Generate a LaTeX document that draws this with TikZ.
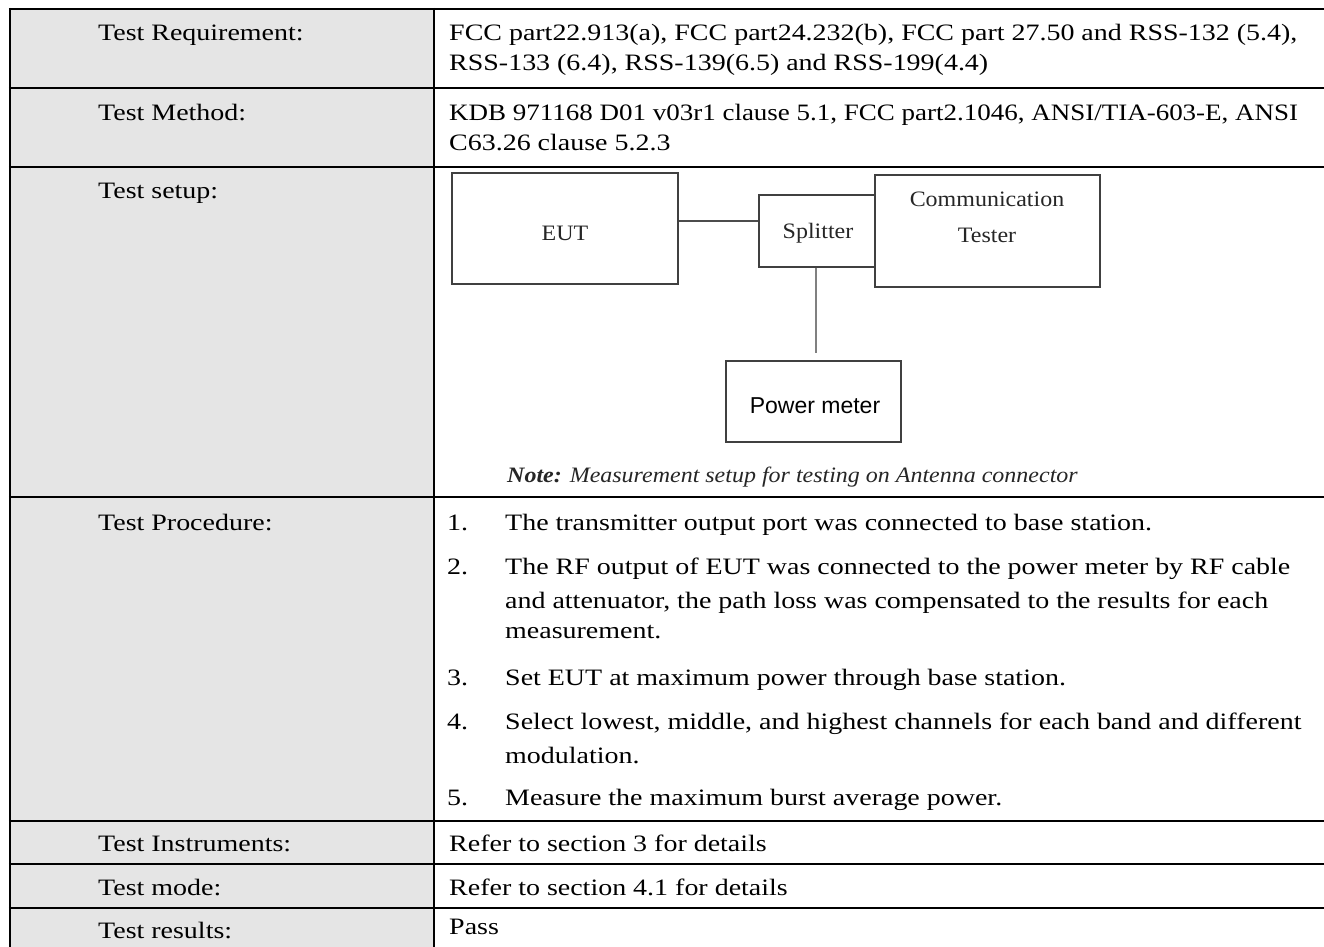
\documentclass[tikz,border=0pt]{standalone}
\usepackage{fontspec}
\setmainfont{Liberation Serif}[FakeStretch=1.19]
\newfontfamily\diagfont{Liberation Serif}[FakeStretch=1.09]
\newfontfamily\arialfont{Liberation Sans}
\begin{document}
\begin{tikzpicture}[x=1pt,y=-1pt,
  tbl/.style={line width=2.2pt, black},
  lbl/.style={anchor=base west, inner sep=0pt, font=\fontsize{23.5}{30}\selectfont},
  box/.style={draw=black!75, line width=1.4pt, inner sep=0pt},
  dtext/.style={anchor=base, inner sep=0pt, font=\diagfont\fontsize{22}{26}\selectfont, text=black!85},
  wire/.style={draw=black!70, line width=1.4pt}
]
\useasboundingbox (0,0) rectangle (1324,946);
\fill[white] (0,0) rectangle (1324,946);
\clip (0,0) rectangle (1324,946);
% table
\fill[black!10] (10,9) rectangle (434,960);
\foreach \yy in {9,88,167,497,821,864,908} \draw[tbl] (8.9,\yy) -- (1330,\yy);
\draw[tbl] (10,7.9) -- (10,960);
\draw[tbl] (434,7.9) -- (434,960);
% left column
\node[lbl] (l1) at (98,40) {Test Requirement:};
\node[lbl] (l2) at (98,120) {Test Method:};
\node[lbl] (l3) at (98,198) {Test setup:};
\node[lbl] (l4) at (98,530) {Test Procedure:};
\node[lbl] (l5) at (98,851) {Test Instruments:};
\node[lbl] (l6) at (98,895) {Test mode:};
\node[lbl] (l7) at (98,938) {Test results:};
% right column
\node[lbl] (r1a) at (449,40) {FCC part22.913(a), FCC part24.232(b), FCC part 27.50 and RSS-132 (5.4),};
\node[lbl] (r1b) at (449,70) {RSS-133 (6.4), RSS-139(6.5) and RSS-199(4.4)};
\node[lbl] (r2a) at (449,120) {\scalebox{0.965}[1]{KDB 971168 D01 v03r1 clause 5.1, FCC part2.1046, ANSI/TIA-603-E, ANSI}};
\node[lbl] (r2b) at (449,150) {C63.26 clause 5.2.3};
% procedure
\node[lbl] (n1) at (447,530) {1.};
\node[lbl] (p1) at (505,530) {The transmitter output port was connected to base station.};
\node[lbl] (n2) at (447,574) {2.};
\node[lbl] (p2a) at (505,574) {The RF output of EUT was connected to the power meter by RF cable};
\node[lbl] (p2b) at (505,608) {and attenuator, the path loss was compensated to the results for each};
\node[lbl] (p2c) at (505,638) {measurement.};
\node[lbl] (n3) at (447,685) {3.};
\node[lbl] (p3) at (505,685) {Set EUT at maximum power through base station.};
\node[lbl] (n4) at (447,729) {4.};
\node[lbl] (p4a) at (505,729) {Select lowest, middle, and highest channels for each band and different};
\node[lbl] (p4b) at (505,763) {modulation.};
\node[lbl] (n5) at (447,805) {5.};
\node[lbl] (p5) at (505,805) {Measure the maximum burst average power.};
\node[lbl] (r5) at (449,851) {Refer to section 3 for details};
\node[lbl] (r6) at (449,895) {Refer to section 4.1 for details};
\node[lbl] (r7) at (449,934) {Pass};
% diagram
\node[box, minimum width=226pt, minimum height=111pt] (eut) at (565,228.5) {};
\node[box, minimum width=116pt, minimum height=72pt] (split) at (817,231) {};
\node[box, minimum width=225pt, minimum height=112pt] (comm) at (987.5,231) {};
\node[box, minimum width=175pt, minimum height=81pt] (pm) at (813.5,401.5) {};
\node[dtext] (teut) at (565,240) {EUT};
\node[dtext] (tsplit) at (818,238) {Splitter};
\node[dtext] (tcomm1) at (987,206) {Communication};
\node[dtext] (tcomm2) at (987,242) {Tester};
\node[dtext, font=\arialfont\fontsize{23}{27}\selectfont, text=black] (tpm) at (815,413) {Power meter};
\draw[wire] (eut.east |- 0,221) -- (split.west |- 0,221);
\coordinate (pmtop) at (816,353);
\draw[wire, draw=black!50] (split.south -| pmtop) -- (pmtop);
\node[anchor=base west, inner sep=0pt, font=\diagfont\fontsize{22}{26}\selectfont\itshape, text=black!85] (note) at (507,482) {\textbf{Note:} Measurement setup for testing on Antenna connector};
\end{tikzpicture}
\end{document}
